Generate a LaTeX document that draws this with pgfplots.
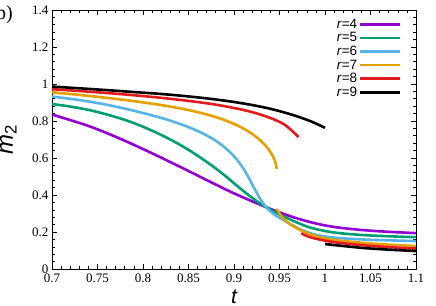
\documentclass[border=0pt]{standalone}
\usepackage{pgfplots}
\pgfplotsset{compat=1.18}
\usepackage{fontspec}
\setmainfont{Liberation Serif}
\newfontfamily\sans{Liberation Sans}
\definecolor{cpur}{HTML}{9400D3}
\definecolor{cgrn}{HTML}{009E73}
\definecolor{csky}{HTML}{56B4E9}
\definecolor{corg}{HTML}{E69F00}
\definecolor{cred}{HTML}{E41A1C}
\pgfplotsset{
  mylegimg/.style={legend image code/.code={\draw[#1,line width=2.6pt] (0pt,0pt) -- (40pt,0pt);}},
}
\begin{document}
\begin{tikzpicture}
\path[use as bounding box] (-52pt,-36pt) rectangle (384pt,269pt);
\begin{axis}[
  anchor=south west, at={(0pt,0pt)},
  scale only axis, width=364pt, height=259pt,
  xmin=0.7, xmax=1.1, ymin=0, ymax=1.4,
  xtick={0.7,0.75,0.8,0.85,0.9,0.95,1,1.05,1.1},
  ytick={0,0.2,0.4,0.6,0.8,1,1.2,1.4},
  minor tick num=4,
  tick align=inside,
  major tick length=5pt, minor tick length=3pt,
  axis line style={line width=0.8pt},
  every tick/.style={black, line width=0.6pt},
  /pgf/number format/assume math mode=true,
  tick label style={font=\fontsize{13}{14}\selectfont},
  xticklabel style={yshift=-1pt},
  clip mode=individual,
  mylegimg,
  legend plot pos=right,
  legend cell align=right,
  legend style={draw=none, fill=none, at={(axis description cs:0.9615,0.973)}, anchor=north east,
    font=\sans\fontsize{13.5}{14}\selectfont, row sep=-1.3pt, inner sep=0pt},
  xlabel={\sans\itshape t}, ylabel={\sans\textit{m}\textsubscript{2}},
  xlabel style={at={(axis description cs:0.5,-0.108)}, anchor=center, font=\fontsize{21}{22}\selectfont},
  ylabel style={at={(axis description cs:-0.12,0.5)}, anchor=center, rotate=0, font=\fontsize{24}{26}\selectfont},
  every axis plot/.append style={line width=2.6pt, smooth, tension=0.55},
]
% r=4
\addplot[cpur] coordinates {(0.70,0.835)(0.72,0.805)(0.742,0.770)(0.764,0.727)(0.786,0.680)(0.808,0.630)(0.830,0.578)(0.852,0.525)(0.874,0.471)(0.896,0.418)(0.918,0.370)(0.940,0.325)(0.962,0.285)(0.985,0.252)(1.009,0.228)(1.04,0.211)(1.07,0.201)(1.1,0.194)};
\addlegendentry{\textit{r}=4}
% r=5
\addplot[cgrn] coordinates {(0.70,0.892)(0.72,0.878)(0.742,0.858)(0.764,0.830)(0.786,0.796)(0.808,0.752)(0.830,0.700)(0.852,0.638)(0.874,0.565)(0.890,0.505)(0.905,0.443)(0.918,0.392)(0.930,0.350)(0.942,0.315)(0.955,0.283)(0.970,0.250)(0.985,0.222)(1.009,0.198)(1.04,0.184)(1.07,0.177)(1.1,0.172)};
\addlegendentry{\textit{r}=5}
% r=6
\addplot[csky] coordinates {(0.70,0.932)(0.72,0.920)(0.742,0.904)(0.764,0.884)(0.786,0.860)(0.808,0.833)(0.830,0.802)(0.852,0.763)(0.870,0.722)(0.885,0.676)(0.898,0.620)(0.908,0.560)(0.916,0.495)(0.923,0.430)(0.930,0.370)(0.937,0.325)(0.945,0.292)(0.955,0.263)(0.965,0.235)(0.975,0.210)(0.990,0.185)(1.009,0.170)(1.04,0.160)(1.07,0.155)(1.1,0.151)};
\addlegendentry{\textit{r}=6}
% r=7
\addplot[corg] coordinates {(0.70,0.955)(0.72,0.946)(0.742,0.935)(0.764,0.923)(0.786,0.910)(0.808,0.895)(0.830,0.878)(0.852,0.857)(0.874,0.830)(0.895,0.795)(0.912,0.755)(0.925,0.712)(0.935,0.665)(0.941,0.625)(0.945,0.585)(0.947,0.540)};
\addlegendentry{\textit{r}=7}
% r=8
\addplot[cred] coordinates {(0.70,0.972)(0.742,0.958)(0.786,0.941)(0.830,0.920)(0.874,0.893)(0.910,0.860)(0.935,0.825)(0.955,0.782)(0.971,0.713)};
\addlegendentry{\textit{r}=8}
% r=9
\addplot[black] coordinates {(0.70,0.986)(0.742,0.973)(0.786,0.958)(0.830,0.942)(0.874,0.920)(0.910,0.895)(0.940,0.866)(0.965,0.832)(0.985,0.797)(1.000,0.763)};
\addlegendentry{\textit{r}=9}
% lower branches
\addplot[corg, forget plot] coordinates {(0.947,0.325)(0.950,0.300)(0.958,0.255)(0.973,0.210)(0.990,0.178)(1.009,0.158)(1.05,0.138)(1.1,0.124)};
\addplot[cred, forget plot] coordinates {(0.974,0.193)(0.985,0.170)(1.009,0.146)(1.05,0.125)(1.1,0.110)};
\addplot[black, forget plot] coordinates {(1.000,0.135)(1.046,0.112)(1.1,0.097)};
\node[anchor=east, inner sep=0pt, font=\fontsize{20}{22}\selectfont] at (axis description cs:-0.107,0.981) {(b)};
\end{axis}
\end{tikzpicture}
\end{document}
